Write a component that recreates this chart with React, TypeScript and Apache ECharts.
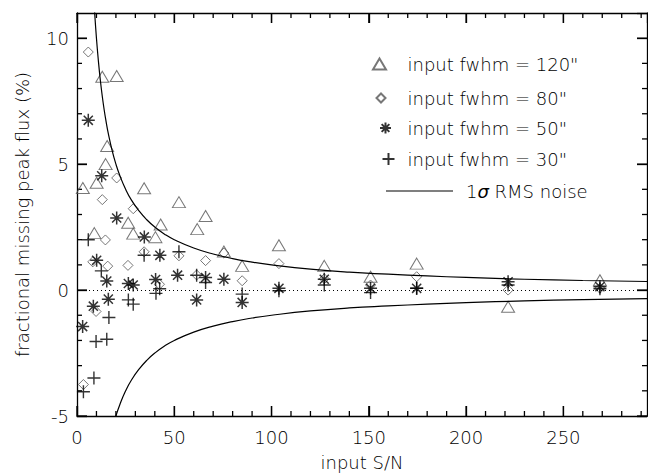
import React, { useEffect, useRef } from 'react';
import * as echarts from 'echarts';

const FONT = '"DejaVu Sans", "Liberation Sans", sans-serif';
const TXT = '#000';

const X_MIN = 0;
const X_MAX = 293;
const Y_MIN = -5;
const Y_MAX = 11;

// tick positions
const xMajorTicks = [0, 50, 100, 150, 200, 250];
const xMinorTicks = [10, 20, 30, 40, 60, 70, 80, 90, 110, 120, 130, 140, 160, 170, 180, 190, 210, 220, 230, 240, 260, 270, 280, 290];
const yMajorTicks = [-5, 0, 5, 10];
const yMinorTicks = [-4, -3, -2, -1, 1, 2, 3, 4, 6, 7, 8, 9];

const N120 = "input fwhm = 120\"";
const N80 = "input fwhm = 80\"";
const N50 = "input fwhm = 50\"";
const N30 = "input fwhm = 30\"";
const NRMS = '1σ RMS noise';

// [input S/N, fractional missing peak flux %]
const fwhm120: number[][] = [
  [3.0, 4.05], [8.9, 2.26], [10.1, 4.26], [13.0, 8.47], [14.7, 5.0], [15.5, 5.72],
  [20.4, 8.5], [26.3, 2.67], [28.9, 2.24], [34.5, 4.04], [40.3, 2.1], [43.0, 2.6],
  [52.4, 3.49], [61.8, 2.42], [66.1, 2.94], [75.5, 1.53], [84.9, 0.96], [103.8, 1.78],
  [127.1, 0.96], [150.9, 0.53], [174.6, 1.05], [221.6, -0.66], [268.8, 0.39],
];

const fwhm80: number[][] = [
  [3.3, -3.75], [5.8, 9.45], [8.1, 1.12], [9.8, -0.85], [13.0, 3.59], [14.6, 1.99],
  [15.8, 0.95], [20.4, 4.45], [26.2, 0.98], [28.9, 3.23], [34.5, 1.52], [42.4, 0.23],
  [52.4, 1.36], [61.5, 0.6], [66.1, 1.17], [75.5, 1.47], [84.9, 0.37], [103.8, 1.05],
  [127.1, 0.45], [150.9, 0.2], [174.6, 0.53], [221.6, 0.0], [268.8, 0.07],
];

const fwhm50: number[][] = [
  [2.9, -1.45], [5.8, 6.74], [8.4, -0.64], [10.1, 1.18], [12.7, 4.54], [15.3, 0.36],
  [16.1, -0.36], [20.4, 2.86], [26.4, 0.26], [28.9, 0.2], [34.6, 2.11], [40.4, 0.42],
  [42.6, 1.38], [51.7, 0.59], [61.5, -0.39], [66.1, 0.5], [75.5, 0.43], [84.9, -0.49],
  [103.8, 0.07], [127.1, 0.43], [150.9, 0.07], [174.6, 0.07], [221.6, 0.33], [268.8, 0.13],
];

const fwhm30: number[][] = [
  [3.3, -4.04], [5.8, 2.0], [8.7, -3.49], [9.8, -2.04], [12.5, 0.76], [15.3, -1.95],
  [16.4, -1.09], [26.4, -0.39], [28.9, -0.56], [34.5, 1.38], [40.6, -0.13], [42.5, 0.05],
  [52.4, 1.52], [61.5, 0.59], [66.1, 0.3], [84.9, -0.16], [103.8, -0.03], [127.1, 0.2],
  [150.9, -0.1], [174.6, 0.07], [221.6, 0.2], [268.8, 0.05],
];

// 1-sigma RMS noise curve
const rmsSN = [9, 10, 11, 12, 13, 14, 15, 16, 18, 20, 22, 25, 28, 32, 36, 40, 45, 50, 60, 70, 80, 90, 100, 120, 140, 160, 180, 200, 230, 260, 293];
const rmsUpper = [11.1, 10, 9.09, 8.33, 7.69, 7.14, 6.67, 6.25, 5.56, 5, 4.55, 4, 3.57, 3.13, 2.78, 2.5, 2.22, 2, 1.67, 1.43, 1.25, 1.11, 1, 0.83, 0.71, 0.63, 0.56, 0.5, 0.43, 0.38, 0.34];
const rmsLower = [-11.1, -10, -9.09, -8.33, -7.69, -7.14, -6.67, -6.25, -5.56, -5, -4.55, -4, -3.57, -3.13, -2.78, -2.5, -2.22, -2, -1.67, -1.43, -1.25, -1.11, -1, -0.83, -0.71, -0.63, -0.56, -0.5, -0.43, -0.38, -0.34];

const STAR = 'path://M0,5L10,5M5,0L5,10M1.5,1.5L8.5,8.5M8.5,1.5L1.5,8.5';
const PLUS = 'path://M0,5L10,5M5,0L5,10';

const labelStyle = { fontFamily: FONT, fontSize: 18, fontWeight: 200, color: TXT };

function xAxisDef(position: string) {
  const main = position === 'bottom';
  return {
    type: 'value', gridIndex: 0, position, min: X_MIN, max: X_MAX, interval: 50,
    axisLine: { show: true, onZero: false, lineStyle: { color: '#000', width: 1.3 } },
    axisTick: { show: true, inside: true, length: 10, lineStyle: { color: '#000', width: 1.3 } },
    axisLabel: {
      show: main, margin: 12, ...labelStyle, showMaxLabel: false,
      formatter: (v: number) => (v % 50 === 0 ? String(v) : ''),
    },
    splitLine: { show: false },
    ...(main ? { name: 'input S/N', nameLocation: 'middle', nameGap: 37, nameTextStyle: { ...labelStyle } } : {}),
  };
}

function yAxisDef(position: string) {
  const main = position === 'left';
  return {
    type: 'value', gridIndex: 0, position, min: Y_MIN, max: Y_MAX, interval: 5,
    axisLine: { show: true, onZero: false, lineStyle: { color: '#000', width: 1.3 } },
    axisTick: { show: true, inside: true, length: 10, lineStyle: { color: '#000', width: 1.3 } },
    axisLabel: {
      show: main, margin: 8, ...labelStyle, showMaxLabel: false,
      formatter: (v: number) => (v % 5 === 0 ? String(v) : ''),
    },
    splitLine: { show: false },
    ...(main ? { name: 'fractional missing peak flux (%)', nameLocation: 'middle', nameGap: 46, nameTextStyle: { ...labelStyle } } : {}),
  };
}

function legendRow(name: any, left: number, centerY: number, w: number, h: number, pad: number, extra: any = {}) {
  return {
    show: true, orient: 'vertical', selectedMode: false,
    left, top: centerY - 9, itemWidth: w, itemHeight: h, padding: 0,
    data: [name],
    textStyle: { ...labelStyle, lineHeight: 18, padding: [0, 0, 0, pad] },
    ...extra,
  };
}

// one custom series per side and tick size; data = [tickValue, 0]
function tickSeries(side: string, ticks: number[], len: number) {
  return {
    type: 'custom', name: 'ticks-' + side + len, xAxisIndex: 0, yAxisIndex: 0, silent: true,
    data: ticks.map((v) => [v, 0]),
    renderItem: (_p: any, api: any) => {
      const v = api.value(0);
      let x1 = 0, y1 = 0, x2 = 0, y2 = 0;
      if (side === 'bottom') {
        const p = api.coord([v, Y_MIN]);
        x1 = p[0]; x2 = p[0]; y1 = p[1]; y2 = p[1] - len;
      } else if (side === 'top') {
        const p = api.coord([v, Y_MAX]);
        x1 = p[0]; x2 = p[0]; y1 = p[1]; y2 = p[1] + len;
      } else if (side === 'left') {
        const p = api.coord([X_MIN, v]);
        y1 = p[1]; y2 = p[1]; x1 = p[0]; x2 = p[0] + len;
      } else {
        const p = api.coord([X_MAX, v]);
        y1 = p[1]; y2 = p[1]; x1 = p[0]; x2 = p[0] - len;
      }
      return {
        type: 'line',
        shape: { x1, y1, x2, y2 },
        style: { stroke: '#000', lineWidth: 1.3 },
      };
    },
  };
}

export default function App() {
  const ref = useRef<HTMLDivElement>(null);
  useEffect(() => {
    const chart = echarts.init(ref.current!, null, { renderer: 'svg' });
    const option: any = {
      animation: false,
      backgroundColor: '#fff',
      grid: { left: 77, right: 1, top: 13, bottom: 57 },
      xAxis: [xAxisDef('bottom'), xAxisDef('top')],
      yAxis: [yAxisDef('left'), yAxisDef('right')],
      legend: [
        legendRow(N120, 370.5, 64, 13, 11, 16.5),
        legendRow(N80, 374, 98, 9, 9, 17),
        legendRow(N50, 377.5, 128, 11, 11, 11.5),
        legendRow(N30, 380, 159, 12, 12, 8),
        legendRow({ name: NRMS, icon: 'rect' }, 386, 191, 67, 1.2, 8, {
          formatter: () => '1{i|σ} RMS noise',
          itemStyle: { color: '#000' },
          textStyle: {
            ...labelStyle, lineHeight: 18, padding: [0, 0, 0, 8],
            rich: { i: { ...labelStyle, fontStyle: 'italic', fontWeight: 400, lineHeight: 18 } },
          },
        }),
      ],
      series: [
        tickSeries('bottom', xMajorTicks, 10),
        tickSeries('bottom', xMinorTicks, 5),
        tickSeries('top', xMajorTicks, 10),
        tickSeries('top', xMinorTicks, 5),
        tickSeries('left', yMajorTicks, 10),
        tickSeries('left', yMinorTicks, 5),
        tickSeries('right', yMajorTicks, 10),
        tickSeries('right', yMinorTicks, 5),
        {
          type: 'line', name: NRMS, xAxisIndex: 0, yAxisIndex: 0,
          data: rmsSN.map((x, i) => [x, rmsUpper[i]]),
          symbol: 'none', showSymbol: false, smooth: true, clip: true, silent: true,
          lineStyle: { color: '#000', width: 1.2 }, itemStyle: { color: '#000' },
          markLine: {
            silent: true, symbol: ['none', 'none'], label: { show: false },
            lineStyle: { color: '#000', width: 1, type: [1, 3] },
            data: [{ yAxis: 0 }],
          },
        },
        {
          type: 'line', name: NRMS, xAxisIndex: 0, yAxisIndex: 0,
          data: rmsSN.map((x, i) => [x, rmsLower[i]]),
          symbol: 'none', showSymbol: false, smooth: true, clip: true, silent: true,
          lineStyle: { color: '#000', width: 1.2 }, itemStyle: { color: '#000' },
        },
        {
          type: 'scatter', name: N120, data: fwhm120, symbol: 'triangle', symbolSize: [13, 11],
          itemStyle: { color: 'none', borderColor: '#555', borderWidth: 1 }, silent: true,
        },
        {
          type: 'scatter', name: N80, data: fwhm80, symbol: 'diamond', symbolSize: [10, 10],
          itemStyle: { color: 'none', borderColor: '#555', borderWidth: 1 }, silent: true,
        },
        {
          type: 'scatter', name: N50, data: fwhm50, symbol: STAR, symbolSize: 13,
          itemStyle: { color: 'none', borderColor: '#000', borderWidth: 1.5 }, silent: true,
        },
        {
          type: 'scatter', name: N30, data: fwhm30, symbol: PLUS, symbolSize: 13,
          itemStyle: { color: 'none', borderColor: '#000', borderWidth: 1.4 }, silent: true,
        },
      ],
    };
    chart.setOption(option);
    return () => chart.dispose();
  }, []);
  return (
    <div
      ref={ref}
      style={{ position: 'fixed', left: 0, top: 0, width: 648, height: 476, background: '#fff' }}
    />
  );
}
